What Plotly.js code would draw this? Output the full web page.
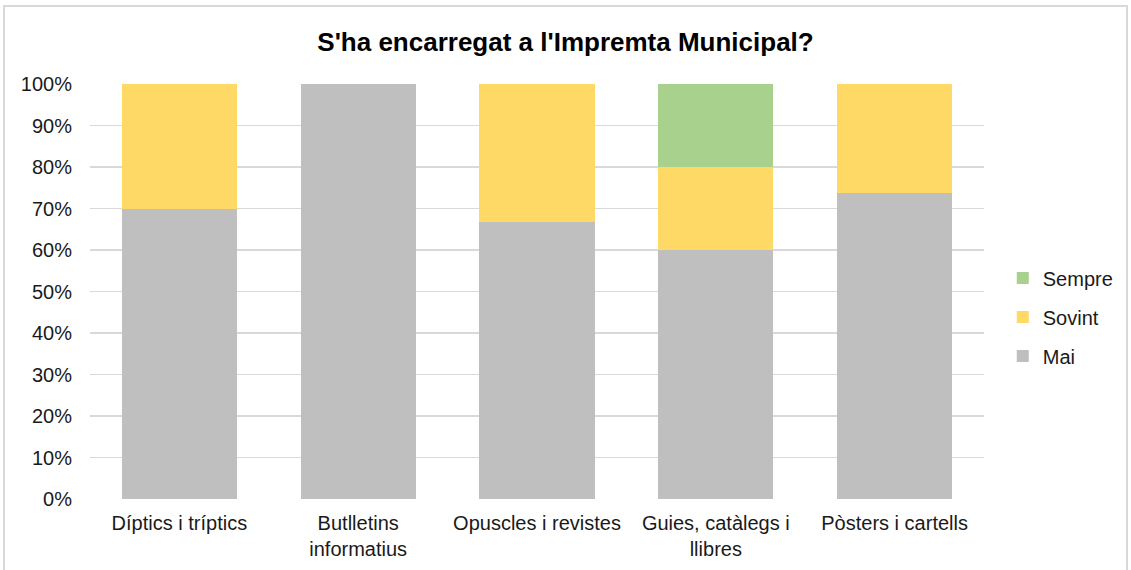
<!DOCTYPE html>
<html>
<head>
<meta charset="utf-8">
<script src="https://cdn.plot.ly/plotly-3.0.1.min.js"></script>
<style>
html,body{margin:0;padding:0;background:#fff;overflow:hidden;}
#frame{position:absolute;left:3px;top:5px;width:1125px;height:600px;border:2px solid #d9d9d9;box-sizing:border-box;}
#chart{position:absolute;left:0;top:0;width:1131px;height:570px;}
</style>
</head>
<body>
<div id="frame"></div>
<div id="chart"></div>
<script>
var categories = ["Díptics i tríptics", "Butlletins<br>informatius", "Opuscles i revistes", "Guies, catàlegs i<br>llibres", "Pòsters i cartells"];
var mai = [70, 100, 66.7, 60, 73.7];
var sovint = [30, 0, 33.3, 20, 26.3];
var sempre = [0, 0, 0, 20, 0];
var yTickVals = [0,10,20,30,40,50,60,70,80,90,100];
var yTickText = ["0%","10%","20%","30%","40%","50%","60%","70%","80%","90%","100%"];

var font = "Liberation Sans, Arial, sans-serif";
function tr(name, vals, color, g, rank){
  return {type:"bar", name:name, x:categories, y:vals, marker:{color:color, line:{width:0}}, legendgroup:g, legendrank:rank, hoverinfo:"skip"};
}
var data = [
  tr("Mai", mai, "#BFBFBF", "c", 3),
  tr("Sovint", sovint, "#FFD966", "b", 2),
  tr("Sempre", sempre, "#A9D18E", "a", 1)
];
var layout = {
  width:1131, height:570,
  paper_bgcolor:"rgba(0,0,0,0)", plot_bgcolor:"rgba(0,0,0,0)",
  margin:{l:90, r:143, t:84, b:71},
  barmode:"stack", bargap:0.356,
  title:{text:"<b>S'ha encarregat a l'Impremta Municipal?</b>", font:{family:font, size:26, color:"#000"}, x:0.5, xanchor:"center", y:0.927, yanchor:"middle"},
  xaxis:{tickfont:{family:font, size:20, color:"#1a1a1a"}, showgrid:false, zeroline:false, showline:false, ticks:"", ticklabelstandoff:10, automargin:false},
  yaxis:{range:[0,100], tickvals:yTickVals, ticktext:yTickText, tickfont:{family:font, size:20, color:"#1a1a1a"}, showgrid:true, gridcolor:"#D9D9D9", gridwidth:1.5, zeroline:false, showline:false, ticks:"", ticklabelstandoff:17, automargin:false},
  legend:{x:1.021, xanchor:"left", y:0.4386, yanchor:"middle", traceorder:"grouped", tracegroupgap:10, font:{family:font, size:20, color:"#1a1a1a"}, itemwidth:30},
  showlegend:true
};
Plotly.newPlot("chart", data, layout, {displayModeBar:false, staticPlot:true});
</script>
</body>
</html>
